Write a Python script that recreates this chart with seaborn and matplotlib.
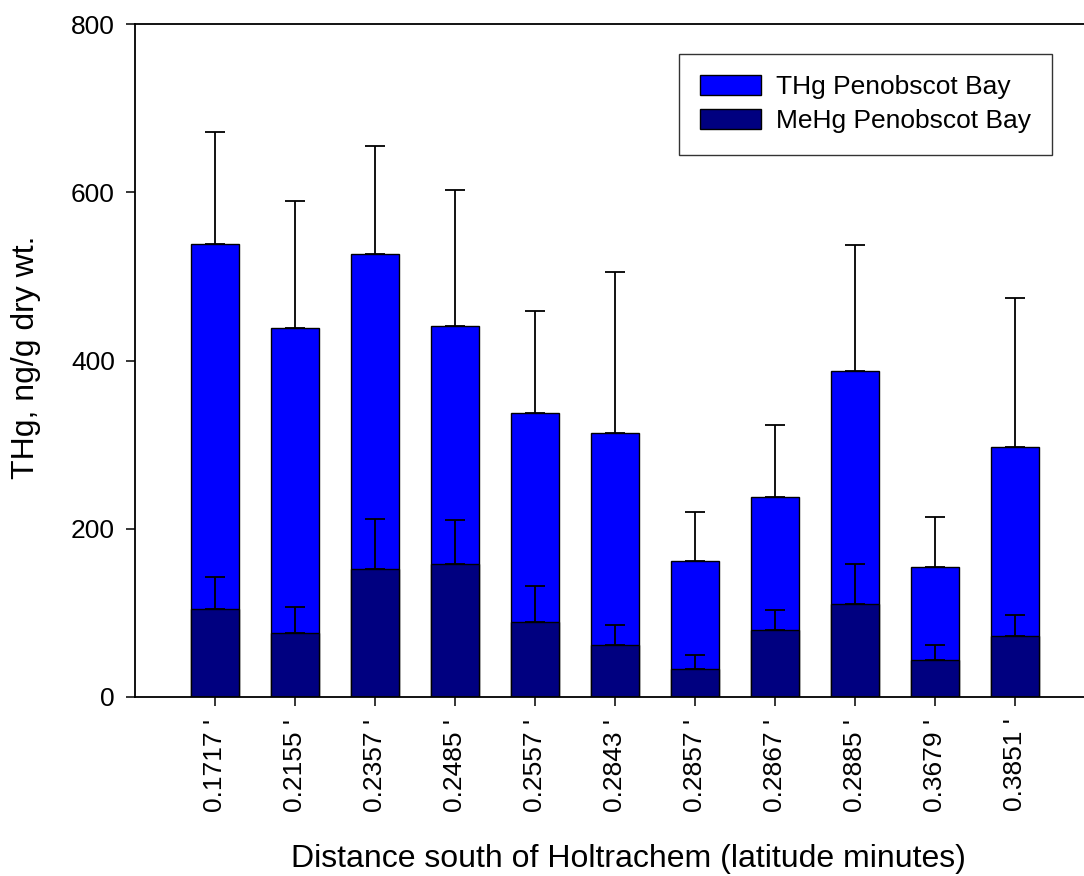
import matplotlib
matplotlib.use("Agg")
import matplotlib.pyplot as plt
import seaborn as sns
import pandas as pd
import numpy as np

categories = ["0.1717 '", "0.2155 '", "0.2357 '", "0.2485 '", "0.2557 '", "0.2843 '",
              "0.2857 '", "0.2867 '", "0.2885 '", "0.3679 '", "0.3851 '"]
thg_mean = [539, 439, 527, 441, 337, 314, 162, 238, 387, 155, 297]
thg_upper = [672, 590, 655, 603, 459, 505, 220, 323, 537, 214, 474]
mehg_mean = [105, 76, 152, 158, 89, 62, 33, 80, 110, 44, 72]
mehg_upper = [143, 107, 212, 210, 132, 86, 50, 104, 158, 62, 97]
y_ticks = [0, 200, 400, 600, 800]

sns.set_theme(style="white")
plt.rcParams['font.family'] = ['Liberation Sans', 'DejaVu Sans']
plt.rcParams['text.color'] = 'black'
plt.rcParams['axes.labelcolor'] = 'black'

fig = plt.figure(figsize=(10.84, 8.76), dpi=100)
ax = fig.add_axes([135/1084, (876-697)/876, (1084-135)/1084, 673/876])

df_t = pd.DataFrame({"cat": categories, "val": thg_mean})
df_m = pd.DataFrame({"cat": categories, "val": mehg_mean})

sns.barplot(data=df_t, x="cat", y="val", color="#0000FF", saturation=1, width=0.6,
            edgecolor="black", linewidth=1.0, errorbar=None, ax=ax, label="THg Penobscot Bay")
sns.barplot(data=df_m, x="cat", y="val", color="#000080", saturation=1, width=0.6,
            edgecolor="black", linewidth=1.0, errorbar=None, ax=ax, label="MeHg Penobscot Bay")

pos = np.arange(len(categories))
for mean, upper in [(thg_mean, thg_upper), (mehg_mean, mehg_upper)]:
    m = np.array(mean, dtype=float)
    u = np.array(upper, dtype=float)
    ax.errorbar(pos, m, yerr=[np.zeros_like(m), u - m], fmt="none", ecolor="black",
                elinewidth=1.3, capsize=7.5, capthick=1.3, zorder=3)

ax.set_ylim(0, 800)
ax.set_xlim(-1.0, 10.86)
ax.set_yticks(y_ticks)
ax.set_yticklabels([str(v) for v in y_ticks], fontsize=19)
ax.set_xticks(pos)
ax.set_xticklabels(categories, rotation=90, fontsize=19)

ax.spines["right"].set_visible(False)
for s in ["left", "top", "bottom"]:
    ax.spines[s].set_visible(True)
    ax.spines[s].set_color("black")
    ax.spines[s].set_linewidth(1.3)

ax.tick_params(axis="both", which="major", direction="out", length=6.5, width=1.1,
               color="black", labelcolor="black")
ax.tick_params(axis="x", pad=9, bottom=True)
ax.tick_params(axis="y", pad=8, left=True)

ax.set_ylabel("THg, ng/g dry wt.", fontsize=23, color="black")
ax.set_xlabel("Distance south of Holtrachem (latitude minutes)", fontsize=23, color="black")
ax.yaxis.set_label_coords(-0.099, 0.505)
ax.xaxis.set_label_coords(0.52, -0.219)

leg = ax.legend(loc="upper right", bbox_to_anchor=(0.966, 0.955), borderaxespad=0,
                fontsize=19, frameon=True, fancybox=False, handlelength=2.3,
                handleheight=0.76, labelspacing=0.38, borderpad=0.8, handletextpad=0.55)
leg.get_frame().set_edgecolor("black")
leg.get_frame().set_linewidth(1.0)
for t in leg.get_texts():
    t.set_color("black")

fig.savefig("out.png", dpi=100)
